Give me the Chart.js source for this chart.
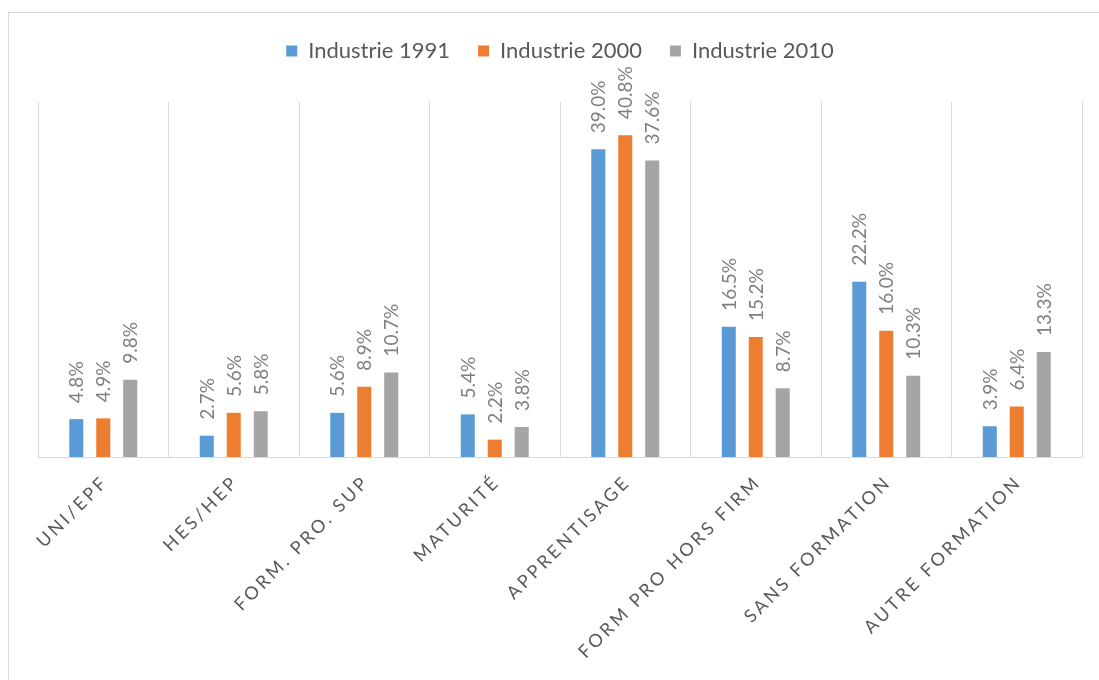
<!DOCTYPE html>
<html>
<head>
<meta charset="utf-8">
<script src="https://cdn.jsdelivr.net/npm/chart.js@4"></script>
<style>
  html, body { margin: 0; padding: 0; background: #fff; overflow: hidden; }
  #frame { position: absolute; left: 8px; top: 12px; width: 1200px; height: 800px; border: 1px solid #d9d9d9; }
  #chart { position: absolute; left: 0; top: 0; }
</style>
</head>
<body>
<div id="frame"></div>
<canvas id="chart" width="1099" height="680"></canvas>
<script>
const categories = ['UNI/EPF', 'HES/HEP', 'FORM. PRO. SUP', 'MATURITÉ', 'APPRENTISAGE', 'FORM PRO HORS FIRM', 'SANS FORMATION', 'AUTRE FORMATION']
const industrie1991 = [4.8, 2.7, 5.6, 5.4, 39.0, 16.5, 22.2, 3.9]
const industrie2000 = [4.9, 5.6, 8.9, 2.2, 40.8, 15.2, 16.0, 6.4]
const industrie2010 = [9.8, 5.8, 10.7, 3.8, 37.6, 8.7, 10.3, 13.3]

const FONT = 'Lato, "Open Sans", sans-serif'

// extra room between the legend and the plot
const legendGap = {
    id: 'legendGap',
    beforeUpdate(chart) {
        const legend = chart.legend
        if (legend && !legend._gapped) {
            const fit = legend.fit
            legend.fit = function() {
                fit.call(this)
                this.height += 30
            }
            legend._gapped = true
        }
    }
}

// rotated value labels above the bars
const valueLabels = {
    id: 'valueLabels',
    afterDatasetsDraw(chart) {
        const ctx = chart.ctx
        chart.data.datasets.forEach((ds, i) => {
            chart.getDatasetMeta(i).data.forEach((bar, j) => {
                ctx.save()
                ctx.translate(bar.x + 1, bar.y - 16)
                ctx.rotate(-Math.PI / 2)
                ctx.font = '19px ' + FONT
                ctx.fillStyle = '#7f7f7f'
                ctx.textAlign = 'left'
                ctx.textBaseline = 'middle'
                ctx.fillText(ds.data[j].toFixed(1) + '%', 0, 0)
                ctx.restore()
            })
        })
    }
}

// spaced-out, slanted category labels
const categoryLabels = {
    id: 'categoryLabels',
    afterDraw(chart) {
        const ctx = chart.ctx
        const xs = chart.scales.x
        categories.forEach((c, i) => {
            ctx.save()
            ctx.translate(xs.getPixelForValue(i) + 2, 479)
            ctx.rotate(-Math.PI / 4)
            ctx.font = '18px ' + FONT
            ctx.letterSpacing = '3px'
            ctx.fillStyle = '#595959'
            ctx.textAlign = 'right'
            ctx.textBaseline = 'middle'
            ctx.fillText(c, 0, 0)
            ctx.restore()
        })
    }
}

new Chart(document.getElementById('chart'), {
    type: 'bar',
    data: {
        labels: categories,
        datasets: [
            { label: 'Industrie 1991', data: industrie1991, backgroundColor: '#5b9bd5' },
            { label: 'Industrie 2000', data: industrie2000, backgroundColor: '#ed7d31' },
            { label: 'Industrie 2010', data: industrie2010, backgroundColor: '#a5a5a5' },
        ]
    },
    options: {
        responsive: false,
        animation: false,
        datasets: { bar: { categoryPercentage: 0.62, barPercentage: 0.52 } },
        layout: { padding: { left: 38, right: 17, top: 12, bottom: 223 } },
        plugins: {
            tooltip: { enabled: false },
            legend: {
                position: 'top',
                labels: {
                    font: { family: FONT, size: 22 },
                    color: '#595959',
                    boxWidth: 11,
                    boxHeight: 11,
                    padding: 28,
                }
            }
        },
        scales: {
            x: {
                grid: { offset: true, color: '#d9d9d9', drawTicks: false },
                border: { color: '#d9d9d9' },
                ticks: { display: false },
            },
            y: {
                display: false,
                min: 0,
                max: 45,
            }
        }
    },
    plugins: [legendGap, valueLabels, categoryLabels]
})
</script>
</body>
</html>
